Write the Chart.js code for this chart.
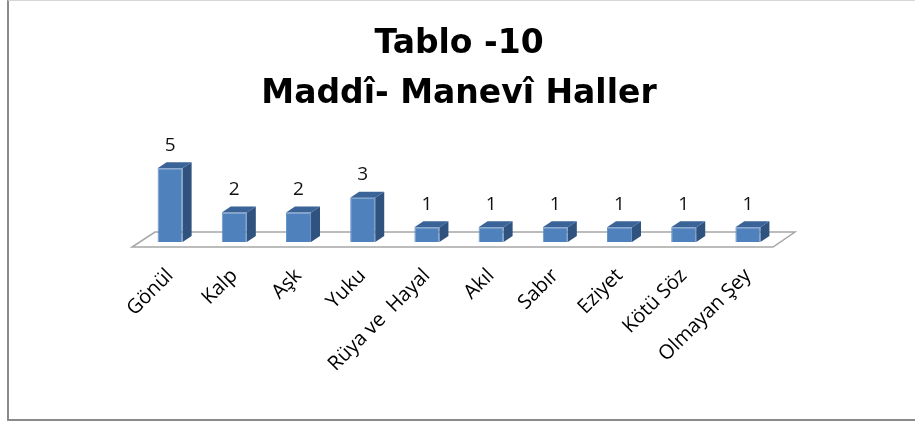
<!DOCTYPE html>
<html>
<head>
<meta charset="utf-8">
<script src="https://cdn.jsdelivr.net/npm/chart.js@4"></script>
<style>
  html, body { margin: 0; padding: 0; background: #fff; }
  #wrap { position: relative; width: 915px; height: 423px; overflow: hidden; }
  #frame {
    position: absolute; left: 7px; top: 0; width: 910px; height: 418px;
    border-left: 2px solid #8a8a8a; border-bottom: 2px solid #8a8a8a; border-top: 1px solid #d6d6d6;
    pointer-events: none;
  }
  canvas { position: absolute; left: 0; top: 0; }
</style>
</head>
<body>
<div id="wrap">
  <canvas id="chart" width="915" height="423"></canvas>
  <div id="frame"></div>
</div>
<script>
const kategoriler = ["Gönül", "Kalp", "Aşk", "Yuku", "Rüya ve  Hayal", "Akıl", "Sabır", "Eziyet", "Kötü Söz", "Olmayan Şey"];
const degerler = [5, 2, 2, 3, 1, 1, 1, 1, 1, 1];
const baslik = ["Tablo -10", "Maddî- Manevî Haller"];

// kutularin 3 boyutlu gorunumu
const derinlikX = 9;
const derinlikY = -6;

const zeminCiz = {
  id: "zemin",
  beforeDatasetsDraw(chart) {
    const a = chart.chartArea;
    const ctx = chart.ctx;
    ctx.save();
    ctx.beginPath();
    ctx.moveTo(a.left - 6, a.bottom + 5);
    ctx.lineTo(a.right - 7, a.bottom + 5);
    ctx.lineTo(a.right + 15, a.bottom - 10);
    ctx.lineTo(a.left + 17, a.bottom - 10);
    ctx.closePath();
    ctx.fillStyle = "#ffffff";
    ctx.fill();
    ctx.strokeStyle = "#a6a6a6";
    ctx.lineWidth = 1.5;
    ctx.stroke();
    ctx.restore();
  }
};

const kutu3d = {
  id: "kutu3d",
  afterDatasetsDraw(chart) {
    const ctx = chart.ctx;
    const meta = chart.getDatasetMeta(0);
    ctx.save();
    meta.data.forEach((bar, i) => {
      const w = bar.width / 2;
      const x = bar.x, y = bar.y, b = bar.base;
      // yan yuz
      ctx.beginPath();
      ctx.moveTo(x + w, y);
      ctx.lineTo(x + w + derinlikX, y + derinlikY);
      ctx.lineTo(x + w + derinlikX, b + derinlikY);
      ctx.lineTo(x + w, b);
      ctx.closePath();
      ctx.fillStyle = "#30527f";
      ctx.fill();
      // ust yuz
      ctx.beginPath();
      ctx.moveTo(x - w, y);
      ctx.lineTo(x + w, y);
      ctx.lineTo(x + w + derinlikX, y + derinlikY);
      ctx.lineTo(x - w + derinlikX, y + derinlikY);
      ctx.closePath();
      ctx.fillStyle = "#3a6398";
      ctx.fill();
      // deger etiketi
      ctx.fillStyle = "#111";
      ctx.font = "19px 'Open Sans'";
      ctx.textAlign = "center";
      ctx.textBaseline = "middle";
      ctx.fillText(degerler[i], x, y - 23);
    });
    ctx.restore();
  }
};

new Chart(document.getElementById("chart"), {
  type: "bar",
  data: {
    labels: kategoriler,
    datasets: [{
      data: degerler,
      backgroundColor: "#4f81bd",
      borderColor: "#6a95c8",
      borderWidth: 1,
      categoryPercentage: 1,
      barPercentage: 0.39
    }]
  },
  options: {
    responsive: false,
    animation: false,
    layout: { padding: { left: 138, right: 135, top: 0, bottom: 0 } },
    plugins: {
      legend: { display: false },
      tooltip: { enabled: false },
      title: {
        display: true,
        text: baslik,
        color: "#000",
        font: { family: "'DejaVu Sans'", size: 33, weight: "bold", lineHeight: 1.515 },
        padding: { top: 19, bottom: 5 }
      }
    },
    scales: {
      y: { display: false, min: 0, max: 8 },
      x: {
        grid: { display: false },
        border: { display: false },
        ticks: {
          color: "#000",
          font: { family: "'Open Sans'", size: 20 },
          minRotation: 45,
          maxRotation: 45,
          autoSkip: false,
          padding: 14
        },
        afterFit(scale) {
          scale.height = 181;
          scale.paddingLeft = 0;
          scale.paddingRight = 0;
        }
      }
    }
  },
  plugins: [zeminCiz, kutu3d]
});
</script>
</body>
</html>
